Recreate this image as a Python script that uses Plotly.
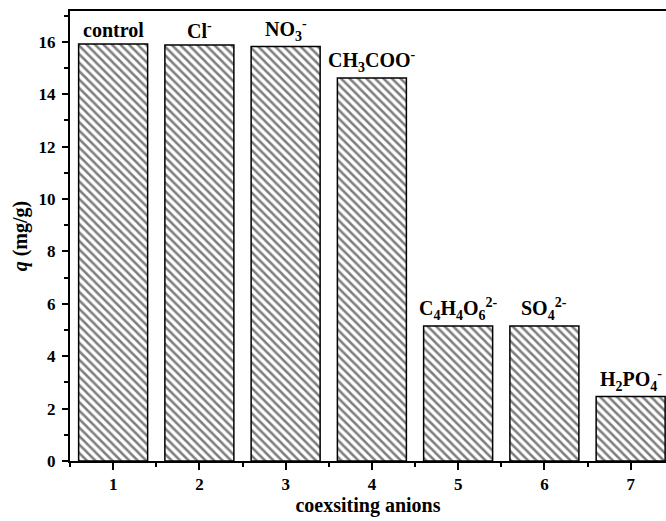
import plotly.graph_objects as go

# Adsorption capacity with different coexisting anions
positions = [1, 2, 3, 4, 5, 6, 7]
q_values = [15.92, 15.88, 15.82, 14.62, 5.15, 5.15, 2.46]
anion_labels = [
    "control",
    "Cl<sup>-</sup>",
    "NO<sub>3</sub><sup>-</sup>",
    "CH<sub>3</sub>COO<sup>-</sup>",
    "C<sub>4</sub>H<sub>4</sub>O<sub>6</sub><sup>2-</sup>",
    "SO<sub>4</sub><sup>2-</sup>",
    "H<sub>2</sub>PO<sub>4</sub><sup>-</sup>",
]
y_ticks = [0, 2, 4, 6, 8, 10, 12, 14, 16]

FONT = "Liberation Serif"

fig = go.Figure()
fig.add_trace(go.Bar(
    x=positions,
    y=q_values,
    width=0.8,
    marker=dict(
        color="white",
        line=dict(color="black", width=1.5),
        pattern=dict(shape="\\", fgcolor="black", bgcolor="white",
                     size=6, solidity=0.42, fillmode="overlay"),
    ),
    showlegend=False,
))

for xv, yv, lab in zip(positions, q_values, anion_labels):
    fig.add_annotation(
        x=xv, y=yv, text="<b>" + lab + "</b>", showarrow=False,
        xanchor="center", yanchor="bottom", yshift=1,
        font=dict(family=FONT, size=20, color="black"),
    )

fig.update_layout(
    width=666, height=521,
    margin=dict(l=70, r=0, t=11, b=60),
    paper_bgcolor="white", plot_bgcolor="white",
    font=dict(family=FONT, color="black"),
    bargap=0.2,
)

fig.update_xaxes(
    range=[0.5, 7.41],
    tickvals=positions,
    ticktext=["<b>%d</b>" % p for p in positions],
    ticks="outside", ticklen=7, tickwidth=1.5, tickcolor="black",
    minor=dict(tickvals=[0.5, 1.5, 2.5, 3.5, 4.5, 5.5, 6.5, 7.5],
               ticks="outside", ticklen=4, tickwidth=1.5, tickcolor="black"),
    tickfont=dict(family=FONT, size=17, color="black"),
    showline=True, linecolor="black", linewidth=2, mirror=True,
    showgrid=False, zeroline=False,
    title=dict(text="<b>coexsiting anions</b>",
               font=dict(family=FONT, size=20, color="black"), standoff=4),
)

fig.update_yaxes(
    range=[0, 17.18],
    tickvals=y_ticks,
    ticktext=["<b>%d</b>" % v for v in y_ticks],
    ticks="outside", ticklen=6, tickwidth=1.5, tickcolor="black",
    minor=dict(dtick=1, ticks="outside", ticklen=4, tickwidth=1.5, tickcolor="black"),
    tickfont=dict(family=FONT, size=17, color="black"),
    ticklabelstandoff=3,
    showline=True, linecolor="black", linewidth=2,
    showgrid=False, zeroline=False,
    title=dict(text="<b><i>q</i> (mg/g)</b>",
               font=dict(family=FONT, size=20, color="black"), standoff=6),
)

fig.write_html("out.html")
